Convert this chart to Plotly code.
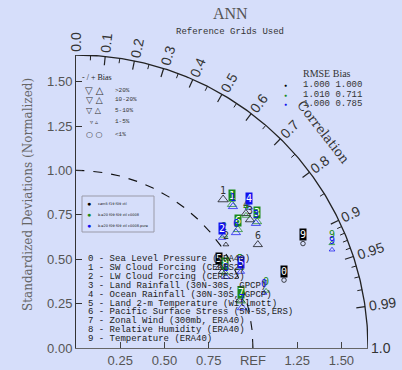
import numpy as np
import plotly.graph_objects as go

# ---------------- data ----------------
models = ["cam5 f19 f09 ctl", "b.e20 f09 f09 ctl c0008", "b.e20 f09 f09 ctl c0008.pure"]
model_colors = ["#000000", "#1a8a1a", "#1010ee"]
rmse_vals = ["1.000", "1.010", "1.000"]
bias_vals = ["1.000", "0.711", "0.785"]

var_ids = ["0", "1", "2", "3", "4", "5", "6", "7", "8", "9"]
var_names = [
    "Sea Level Pressure (ERA40)",
    "SW Cloud Forcing (CERES2)",
    "LW Cloud Forcing (CERES2)",
    "Land Rainfall (30N-30S, GPCP)",
    "Ocean Rainfall (30N-30S, GPCP)",
    "Land 2-m Temperature (Willmott)",
    "Pacific Surface Stress (5N-5S,ERS)",
    "Zonal Wind (300mb, ERA40)",
    "Relative Humidity (ERA40)",
    "Temperature (ERA40)",
]

# normalized standard deviation, correlation, bias (%) per model
std_black = [1.236, 1.179, 1.028, 1.220, 1.223, 0.926, 1.181, 0.966, 0.930, 1.411]
cor_black = [0.951, 0.705, 0.824, 0.806, 0.785, 0.873, 0.870, 0.960, 0.887, 0.909]
bias_black = [0.5, 25, 3, 12, 12, 8, 15, 15, 8, 0.5]
box_black = [1, 0, 0, 0, 0, 1, 0, 0, 0, 1]

std_green = [1.121, 1.196, 1.049, 1.246, 1.216, 1.031, 1.132, 0.969, 0.943, 1.561]
cor_green = [0.958, 0.737, 0.797, 0.821, 0.790, 0.899, 0.808, 0.962, 0.893, 0.926]
bias_green = [3, 15, 6, 15, 8, 8, 12, 12, 6, 3]
box_green = [0, 1, 0, 1, 0, 0, 1, 1, 1, 0]

std_blue = [1.107, 1.192, 1.033, 1.235, 1.257, 1.026, 1.113, 0.965, 0.937, 1.549]
cor_blue = [0.960, 0.744, 0.799, 0.823, 0.777, 0.908, 0.812, 0.972, 0.904, 0.934]
bias_blue = [3, 12, 6, 12, 8, 6, 10.5, 12, 6, 3]
box_blue = [0, 0, 1, 0, 1, 1, 0, 0, 0, 0]

# axis ticks
std_ticks = [0.0, 0.25, 0.5, 0.75, 1.0, 1.25, 1.5]
std_tick_text = ["0.00", "0.25", "0.50", "0.75", "1.00", "1.25", "1.50"]
x_ticks = [0.25, 0.5, 0.75, 1.0, 1.25, 1.5]
x_tick_text = ["0.25", "0.50", "0.75", "REF", "1.25", "1.50"]
cor_major = [0.0, 0.1, 0.2, 0.3, 0.4, 0.5, 0.6, 0.7, 0.8, 0.9, 0.95, 0.99, 1.0]
cor_major_text = ["0.0", "0.1", "0.2", "0.3", "0.4", "0.5", "0.6", "0.7", "0.8", "0.9", "0.95", "0.99", "1.0"]
cor_minor = [0.05, 0.15, 0.25, 0.35, 0.45, 0.55, 0.65, 0.75, 0.85, 0.91, 0.92, 0.93, 0.94, 0.96, 0.97, 0.98]

bias_classes = [">20%", "10-20%", "5-10%", "1-5%", "<1%"]

RMAX = 1.65

# ------------- helpers (layout pixels -> paper units) -------------
L, R, T, B = 76, 34, 55, 22
W, H = 402, 370
PW, PH = W - L - R, H - T - B
BG = "#d6defa"

def px_x(px):
    return (px - L) / PW
def px_y(py):
    return (H - B - py) / PH
def d2p(x, y):
    return x / RMAX, y / RMAX

def polar(s, r):
    s = np.asarray(s, float); r = np.asarray(r, float)
    th = np.arccos(r)
    return s * np.cos(th), s * np.sin(th)

def bias_style(b):
    b = abs(b)
    if b > 20: return "triangle-up-open", 9
    if b > 10: return "triangle-up-open", 8
    if b > 5: return "triangle-up-open", 6.5
    if b >= 1: return "triangle-up-open", 5
    return "circle-open", 4.5

fig = go.Figure()
ann = []
shapes = []

def pann(px, py, text, **kw):
    d = dict(x=px_x(px), y=px_y(py), xref="paper", yref="paper", text=text, showarrow=False,
             xanchor="center", yanchor="middle")
    d.update(kw)
    ann.append(d)

# outer arc
th = np.linspace(0, np.pi / 2, 200)
fig.add_trace(go.Scatter(x=RMAX * np.cos(th), y=RMAX * np.sin(th), mode="lines",
                         line=dict(color="#222", width=1.3), hoverinfo="skip",
                         showlegend=False, cliponaxis=False))
# REF arc dashed
fig.add_trace(go.Scatter(x=np.cos(th), y=np.sin(th), mode="lines",
                         line=dict(color="#111", width=1.1, dash="dash"), hoverinfo="skip",
                         showlegend=False))

# correlation ticks and labels
for c, lab in zip(cor_major, cor_major_text):
    t = np.arccos(c)
    if 0 < c < 1:
        shapes.append(dict(type="line", xref="x", yref="y",
                           x0=RMAX * np.cos(t), y0=RMAX * np.sin(t),
                           x1=(RMAX - 0.05) * np.cos(t), y1=(RMAX - 0.05) * np.sin(t),
                           line=dict(color="#222", width=1.2)))
    rl = RMAX + (0.10 if len(lab) > 3 else 0.075)
    xp, yp = d2p(rl * np.cos(t), rl * np.sin(t))
    ann.append(dict(x=xp, y=yp, xref="paper", yref="paper", text=lab,
                    showarrow=False, textangle=-np.degrees(t), xanchor="center", yanchor="middle",
                    font=dict(family="Liberation Sans", size=14, color="#333")))
for c in cor_minor:
    t = np.arccos(c)
    shapes.append(dict(type="line", xref="x", yref="y",
                       x0=RMAX * np.cos(t), y0=RMAX * np.sin(t),
                       x1=(RMAX - 0.028) * np.cos(t), y1=(RMAX - 0.028) * np.sin(t),
                       line=dict(color="#222", width=1)))
# "Correlation" label
tc = np.radians(40.9)
xp, yp = d2p(1.85 * np.cos(tc), 1.85 * np.sin(tc))
ann.append(dict(x=xp, y=yp, xref="paper", yref="paper", text="Correlation",
                xanchor="center", yanchor="middle",
                showarrow=False, textangle=52, font=dict(family="DejaVu Serif", size=13, color="#333")))

# data points
all_models = [
    (std_black, cor_black, bias_black, box_black),
    (std_green, cor_green, bias_green, box_green),
    (std_blue, cor_blue, bias_blue, box_blue),
]
for mi, (st, co, bi, bx) in enumerate(all_models):
    xs, ys = polar(st, co)
    syms = [bias_style(b)[0] for b in bi]
    sizes = [bias_style(b)[1] for b in bi]
    col = model_colors[mi]
    fig.add_trace(go.Scatter(x=xs, y=ys, mode="markers", name=models[mi], showlegend=False,
                             marker=dict(symbol=syms, size=sizes, color=col,
                                         line=dict(color=col, width=1))))
    for k in range(len(xs)):
        if bx[k]:
            ann.append(dict(x=xs[k], y=ys[k], xref="x", yref="y", text=var_ids[k], showarrow=False,
                            yshift=9, bgcolor=col, borderpad=0,
                            font=dict(family="DejaVu Sans Mono", size=10, color="white")))
        else:
            ann.append(dict(x=xs[k], y=ys[k], xref="x", yref="y", text=var_ids[k], showarrow=False,
                            yshift=9, font=dict(family="DejaVu Sans Mono", size=10, color=col if mi else "#333")))

# variable list
for i, (vid, nm) in enumerate(zip(var_ids, var_names)):
    pann(86, 259 + i * 8.9, f"{vid} - {nm}", xanchor="left",
         font=dict(family="Liberation Mono", size=9, color="#222"))

# bias legend (upper left)
pann(80, 78, "- / + Bias", xanchor="left",
     font=dict(family="Liberation Serif", size=8, color="#222"))
sym_sizes = [10, 9, 8, 6, 8]
sym_pairs = ["▽ △", "▽ △", "▽ △", "▿ ▵", "○ ○"]
row_y = [90, 100, 111, 122, 134]
for i, lab in enumerate(bias_classes):
    pann(94, row_y[i], sym_pairs[i], font=dict(family="DejaVu Sans", size=sym_sizes[i], color="#333"))
    pann(113, row_y[i], lab, xanchor="left", font=dict(family="Liberation Mono", size=6, color="#333"))

# RMSE / Bias table
pann(301, 73, "RMSE Bias", xanchor="left", font=dict(family="Liberation Serif", size=10, color="#333"))
for i in range(3):
    yy = 85 + i * 9.6
    pann(285, yy, "●", font=dict(size=5, color=model_colors[i]))
    pann(301, yy, f"{rmse_vals[i]} {bias_vals[i]}", xanchor="left",
         font=dict(family="Liberation Mono", size=9, color="#333"))

# model legend box
shapes.append(dict(type="rect", xref="paper", yref="paper", x0=px_x(82), x1=px_x(154),
                   y0=px_y(232), y1=px_y(196),
                   line=dict(color="#9a9aa8", width=1), fillcolor="rgba(0,0,0,0)"))
for i in range(3):
    yy = 203.5 + i * 11
    pann(89, yy, "●", font=dict(size=7, color=model_colors[i]))
    pann(96, yy, models[i], xanchor="left", font=dict(family="DejaVu Sans", size=3.5, color="#111"))

# titles
pann(230, 13, "ANN", font=dict(family="Liberation Serif", size=16, color="#555"))
pann(230, 32, "Reference Grids Used", font=dict(family="Liberation Mono", size=9, color="#333"))
pann(28, 195, "Standardized Deviations (Normalized)", textangle=-90,
     font=dict(family="DejaVu Serif", size=12, color="#666"))

fig.update_layout(
    width=W, height=H, margin=dict(l=L, r=R, t=T, b=B),
    paper_bgcolor=BG, plot_bgcolor=BG, showlegend=False,
    annotations=ann, shapes=shapes,
    xaxis=dict(range=[0, RMAX], showgrid=False, zeroline=False, showline=True, linecolor="#666",
               linewidth=1, ticks="inside", ticklen=6, tickcolor="#444", automargin=False,
               tickvals=x_ticks, ticktext=x_tick_text,
               tickfont=dict(family="Liberation Sans", size=13, color="#555")),
    yaxis=dict(range=[0, RMAX], showgrid=False, zeroline=False, showline=True, linecolor="#333",
               linewidth=1, ticks="inside", ticklen=6, tickcolor="#333", automargin=False,
               tickvals=std_ticks, ticktext=std_tick_text,
               tickfont=dict(family="Liberation Sans", size=13, color="#555")),
)

fig.write_html("out.html", config={"displayModeBar": False},
               post_script=f"document.body.style.margin='0';document.body.style.background='{BG}';")
